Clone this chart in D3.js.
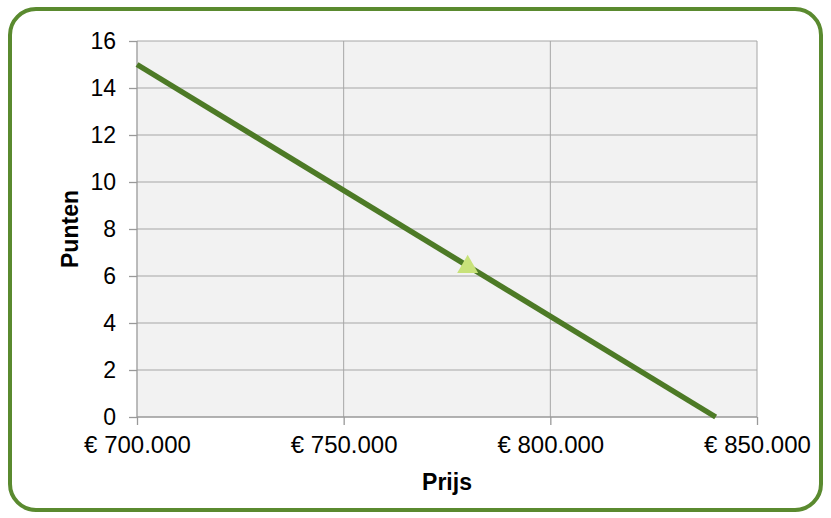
<!DOCTYPE html>
<html>
<head>
<meta charset="utf-8">
<script src="https://cdn.jsdelivr.net/npm/d3@7"></script>
<style>
  html, body { margin: 0; padding: 0; background: #fff; }
  svg { display: block; font-family: "Liberation Sans", Arial, sans-serif; }
</style>
</head>
<body>
<div id="chart"></div>
<script>
// lijn: prijs -> punten
const linePrices = [700000, 840000];
const linePoints = [15, 0];
// gemarkeerd punt (driehoek)
const markerPrices = [780000];
const markerPoints = [6.43];
// ticks
const xTicks = [700000, 750000, 800000, 850000];
const yTicks = [0, 2, 4, 6, 8, 10, 12, 14, 16];

const width = 831, height = 518;
const margin = { left: 137, right: 74, top: 41, bottom: 101 };
const pw = width - margin.left - margin.right;
const ph = height - margin.top - margin.bottom;

const svg = d3.select("#chart").append("svg")
  .attr("width", width)
  .attr("height", height);

// rand
svg.append("rect")
  .attr("x", 10).attr("y", 9)
  .attr("width", width - 20).attr("height", height - 17)
  .attr("rx", 26).attr("ry", 26)
  .attr("fill", "#fff")
  .attr("stroke", "#5a8a2f")
  .attr("stroke-width", 4);

const x = d3.scaleLinear().domain([700000, 850000]).range([0, pw]);
const y = d3.scaleLinear().domain([0, 16]).range([ph, 0]);

const g = svg.append("g").attr("transform", `translate(${margin.left},${margin.top})`);

g.append("rect")
  .attr("width", pw).attr("height", ph)
  .attr("fill", "#f2f2f2");

// grid
g.selectAll("line.hgrid").data(yTicks.filter(d => d > 0)).enter()
  .append("line")
  .attr("x1", 0).attr("x2", pw)
  .attr("y1", d => y(d)).attr("y2", d => y(d))
  .attr("stroke", "#a6a6a6").attr("stroke-width", 1);
g.selectAll("line.vgrid").data(xTicks.filter(d => d > 700000)).enter()
  .append("line")
  .attr("x1", d => x(d)).attr("x2", d => x(d))
  .attr("y1", 0).attr("y2", ph)
  .attr("stroke", "#a6a6a6").attr("stroke-width", 1);

const fmt = d => "€ " + d3.format(",")(d).replace(/,/g, ".");

const xAxis = g.append("g")
  .attr("transform", `translate(0,${ph})`)
  .call(d3.axisBottom(x).tickValues(xTicks).tickSize(8).tickPadding(11).tickFormat(fmt));
const yAxis = g.append("g")
  .call(d3.axisLeft(y).tickValues(yTicks).tickSize(8).tickPadding(13));

[xAxis, yAxis].forEach(a => {
  a.select(".domain").attr("stroke", "#999").attr("stroke-width", 1.3);
  a.selectAll(".tick line").attr("stroke", "#999").attr("stroke-width", 1.3);
  a.selectAll("text")
    .attr("fill", "#000")
    .style("font-family", "'Liberation Sans', Arial, sans-serif");
});
xAxis.selectAll("text").style("font-size", "24px");
yAxis.selectAll("text").style("font-size", "23px");
// domain zonder buitenste ticks
xAxis.select(".domain").attr("d", `M0,0H${pw}`);
yAxis.select(".domain").attr("d", `M0,0V${ph}`);

// lijn
const lineData = linePrices.map((p, i) => ({ p, v: linePoints[i] }));
g.append("path")
  .datum(lineData)
  .attr("d", d3.line().x(d => x(d.p)).y(d => y(d.v)))
  .attr("fill", "none")
  .attr("stroke", "#4d7a26")
  .attr("stroke-width", 5.5);

// driehoek
const markerData = markerPrices.map((p, i) => ({ p, v: markerPoints[i] }));
g.selectAll("path.marker").data(markerData).enter()
  .append("path")
  .attr("d", d3.symbol().type(d3.symbolTriangle).size(190))
  .attr("transform", d => `translate(${x(d.p)},${y(d.v) + 1})`)
  .attr("fill", "#c8e27a");

// as-titels
svg.append("text")
  .attr("x", margin.left + pw / 2)
  .attr("y", 490)
  .attr("text-anchor", "middle")
  .style("font-size", "23px")
  .style("font-weight", "bold")
  .text("Prijs");
svg.append("text")
  .attr("transform", `translate(78,${margin.top + ph / 2}) rotate(-90)`)
  .attr("text-anchor", "middle")
  .style("font-size", "23px")
  .style("font-weight", "bold")
  .text("Punten");
</script>
</body>
</html>
